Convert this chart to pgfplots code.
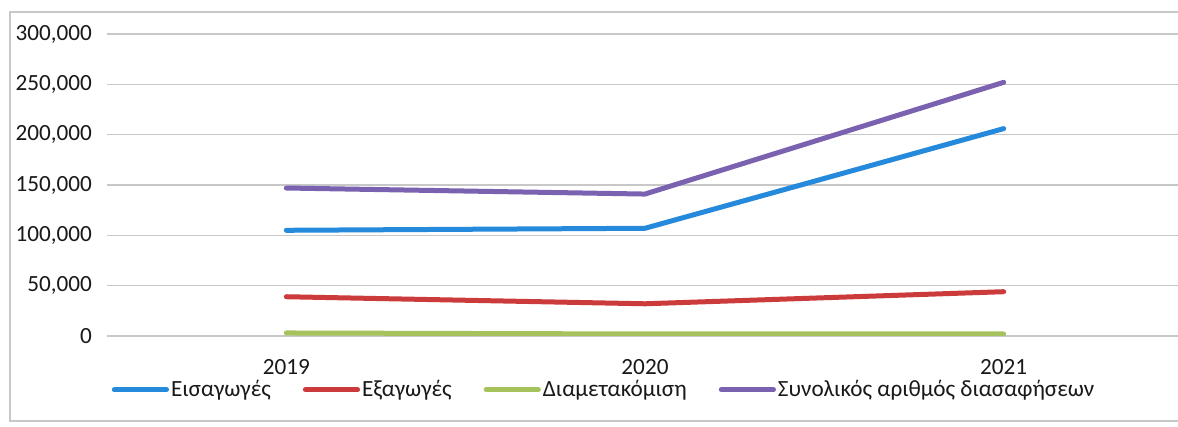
\documentclass[border=0pt]{standalone}
\usepackage{pgfplots}
\pgfplotsset{compat=1.18}
\usepackage{fontspec}
\setmainfont{Carlito}

\definecolor{cImp}{HTML}{2589DC}
\definecolor{cExp}{HTML}{CC3B3B}
\definecolor{cTra}{HTML}{A5C25C}
\definecolor{cTot}{HTML}{7B62B0}
\definecolor{gridc}{HTML}{C8C8C8}

\begin{document}
\begin{tikzpicture}
\useasboundingbox (0,0) rectangle (589pt,213.5pt);
\fill[white] (0,0) rectangle (589pt,213.5pt);
% outer chart frame (right side cut off in the scan)
\draw[gridc, line width=0.6pt] (600pt,3pt) -- (5pt,3pt) -- (5pt,207.5pt) -- (600pt,207.5pt);
\begin{axis}[
    at={(53.5pt,45.5pt)}, anchor=south west,
    scale only axis,
    width=538pt, height=151pt,
    xmin=-0.5, xmax=2.5,
    ymin=0, ymax=300000,
    xtick={0,1,2},
    xticklabels={2019,2020,2021},
    ytick={0,50000,100000,150000,200000,250000,300000},
    yticklabels={0,{50,000},{100,000},{150,000},{200,000},{250,000},{300,000}},
    scaled y ticks=false,
    axis line style={draw=none},
    major tick length=0pt,
    ymajorgrids,
    grid style={gridc, line width=0.6pt},
    tick label style={font=\fontsize{11.6}{14}\selectfont, text=black!90},
    yticklabel style={xshift=-4pt},
    xticklabel style={yshift=-8pt},
    legend columns=4,
    legend style={at={(0.462,-0.178)}, anchor=center, draw=none, fill=none,
        font=\fontsize{11.6}{14}\selectfont, text=black!90,
        /tikz/every even column/.append style={column sep=15pt},
        nodes={inner xsep=1pt}},
    legend image code/.code={\draw[#1, line width=2.6pt, line cap=round] (0pt,0pt) -- (26pt,0pt);},
    every axis plot/.append style={line width=2.5pt, line cap=round, line join=round},
]
\addplot[cImp] coordinates {(0,105000) (1,107000) (2,206000)};
\addlegendentry{Εισαγωγές}
\addplot[cExp] coordinates {(0,39000) (1,32000) (2,44000)};
\addlegendentry{Εξαγωγές}
\addplot[cTra] coordinates {(0,3000) (1,2000) (2,2000)};
\addlegendentry{Διαμετακόμιση}
\addplot[cTot] coordinates {(0,147000) (1,141000) (2,252000)};
\addlegendentry{Συνολικός αριθμός διασαφήσεων}
\end{axis}
\end{tikzpicture}
\end{document}
